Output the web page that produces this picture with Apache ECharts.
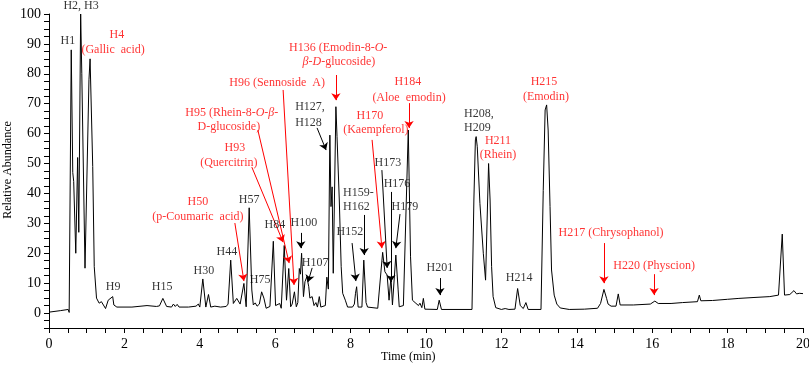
<!DOCTYPE html>
<html>
<head>
<meta charset="utf-8">
<script src="https://cdn.jsdelivr.net/npm/echarts@6/dist/echarts.min.js"></script>
<style>
html,body{margin:0;padding:0;background:#fff;}
#chart{width:809px;height:368px;}
</style>
</head>
<body>
<div id="chart"></div>
<script>
// Chromatogram trace: retention time (min) and relative abundance
const times = [0,0.3,0.51,0.535,0.59,0.63,0.655,0.71,0.76,0.79,0.84,0.87,0.955,1.06,1.09,1.16,1.2,1.26,1.33,1.39,1.5,1.57,1.69,1.72,1.8,2.2,2.6,2.85,2.93,3.02,3.12,3.25,3.3,3.35,3.4,3.45,3.7,3.9,3.96,4.0,4.08,4.16,4.23,4.29,4.4,4.55,4.7,4.75,4.82,4.89,4.98,5.07,5.17,5.23,5.31,5.38,5.42,5.47,5.52,5.58,5.64,5.7,5.76,5.86,5.95,6.01,6.12,6.16,6.24,6.3,6.36,6.41,6.45,6.51,6.56,6.6,6.64,6.67,6.7,6.75,6.79,6.84,6.89,6.92,6.98,7.03,7.08,7.12,7.17,7.21,7.33,7.37,7.41,7.45,7.48,7.51,7.54,7.61,7.64,7.7,7.75,7.79,7.86,7.92,8.05,8.1,8.13,8.16,8.2,8.3,8.35,8.41,8.45,8.72,8.85,8.91,8.97,9.02,9.07,9.11,9.2,9.26,9.29,9.4,9.45,9.53,9.59,9.64,9.71,9.8,9.84,9.89,9.93,9.97,10.3,10.35,10.41,11.22,11.27,11.31,11.33,11.36,11.43,11.52,11.58,11.66,11.7,11.74,11.78,11.85,12.0,12.1,12.2,12.36,12.43,12.5,12.58,12.65,12.71,13.05,13.11,13.16,13.2,13.24,13.29,13.33,13.4,13.47,13.56,13.8,14.2,14.55,14.63,14.72,14.79,14.83,14.86,14.91,15.04,15.1,15.15,15.5,15.95,16.07,16.16,16.5,16.8,17.2,17.25,17.29,17.6,18.0,18.3,18.7,19.12,19.35,19.4,19.45,19.51,19.65,19.76,19.83,19.9,20];
const abundance = [0.3,0.8,1.2,0.2,88,47,44,20,52,27,100,80,15,78,85,49,15.5,5,3.3,3.8,1.5,4.3,5.5,2.7,2.0,2.0,2.5,2.2,2.4,4.9,2.2,2.0,3.0,2.2,2.9,2.0,2.0,2.3,3.0,2.0,11.4,2.0,6.2,2.0,2.3,2.0,2.2,3.0,17.7,3.2,4.9,3.0,9.9,2.1,35.2,7.7,2.7,3.4,2.3,3.0,7.1,5.0,1.6,2.2,24,2.5,3.2,1.6,22.6,4.3,14.9,2.1,3.0,7.1,2.1,3.5,14.9,13,20,5.5,10.5,12.1,8.8,5.0,5.5,2.5,3.5,2.0,5.5,2.0,2.5,12,8,59.5,35.6,42.2,13.3,69,59,37.8,15.5,6.6,4.3,2.0,2.0,3.0,6.6,8.8,2.0,2.0,17.7,3.5,2.0,1.6,20.3,13.8,12.7,4.3,12.1,2.7,19.4,8.0,2.1,2.5,3.0,61.2,18.8,4.3,3.5,2.5,3.3,1.8,4.9,1.3,1.2,4.3,1.2,1.2,37.8,57.9,59,55.6,36.7,20,11,50,37.8,15.5,5.5,1.8,1.2,1.5,1.2,1.3,8.2,2.5,1.5,3.5,1.2,1.2,41,67.9,69.6,61.2,35.6,14.4,6,3,1.7,1.2,1.3,1.6,3.2,7.9,4.9,3.0,3.3,2.3,2.3,6.4,2.7,2.7,3.0,4.0,3.2,3.2,3.5,3.8,6.0,4.1,4.2,4.6,4.9,5.2,5.5,6.0,6.5,26.4,6.0,6.2,7.5,6.4,6.6,6.5];

// Tick labels
const xTickLabels = [0,2,4,6,8,10,12,14,16,18,20];
const yTickLabels = [0,10,20,30,40,50,60,70,80,90,100];

// Peak annotations: text, anchor time, anchor abundance, colour key, alignment
const labelTexts = ['H1','H2, H3','H4','(Gallic  acid)','H9','H15','H30','H44','H50','(p-Coumaric  acid)','H57','H75','H84',
  'H93','(Quercitrin)','H95 (Rhein-8-{i|O}-{i|β}-','D-glucoside)','H96 (Sennoside  A)','H100','H107','H127,','H128',
  'H136 (Emodin-8-{i|O}-','{i|β}-{i|D}-glucoside)','H152','H159-','H162','H170','(Kaempferol)','H173','H176','H179',
  'H184','(Aloe  emodin)','H201','H208,','H209','H211','(Rhein)','H214','H215','(Emodin)','H217 (Chrysophanol)','H220 (Physcion)'];
const labelT = [0.50,0.85,1.80,1.70,1.70,3.00,4.11,4.72,3.95,3.95,5.31,5.60,5.99,
  4.93,4.77,4.85,4.77,6.05,6.76,7.06,6.53,6.53,
  7.67,7.69,7.98,7.80,7.80,8.51,8.67,8.99,9.23,9.44,
  9.52,9.55,10.37,11.01,11.01,11.91,11.91,12.47,13.13,13.18,14.91,16.05];
const labelV = [91.0,102.7,93.0,88.0,8.7,8.7,14.0,20.4,37.1,32.1,37.8,11.0,29.4,
  55.2,50.2,66.9,62.2,76.9,30.1,16.7,68.9,63.5,
  88.6,83.9,27.1,40.1,35.5,65.9,61.2,50.2,43.1,35.5,
  77.3,71.9,15.1,66.6,61.9,57.5,52.8,11.7,77.3,72.2,26.8,15.7];
const labelRed = [0,0,1,1,0,0,0,0,1,1,0,0,0,
  1,1,1,1,1,0,0,0,0,
  1,1,0,0,0,1,1,0,0,0,
  1,1,0,0,0,1,1,0,1,1,1,1];
const labelLeft = [0,0,0,0,0,0,0,0,0,0,0,0,0,
  0,0,0,0,0,0,0,1,1,
  0,0,0,1,1,0,0,0,0,0,
  0,0,0,1,1,0,0,0,0,0,0,0];

// Arrows: start (time, abundance) -> end (time, abundance)
const arrowFromT = [4.93,5.38,5.54,6.21,7.61,8.57,9.55,14.72,16.05, 6.68,6.98,7.11,8.04,8.36,8.83,9.07,9.31,10.37];
const arrowFromV = [30.1,48.8,61.2,74.6,79.6,57.9,70.2,23.4,13.0, 26.8,15.1,61.9,23.4,32.8,47.8,40.5,33.1,11.7];
const arrowToT   = [5.17,6.21,6.37,6.50,7.61,8.83,9.55,14.72,16.05, 6.68,6.87,7.35,8.14,8.36,8.97,9.07,9.20,10.37];
const arrowToV   = [10.7,23.7,16.7,9.4,71.2,21.7,61.9,10.0,6.0, 21.7,10.4,54.5,10.7,19.4,15.1,10.4,21.7,6.0];
const arrowRed   = [1,1,1,1,1,1,1,1,1, 0,0,0,0,0,0,0,0,0];

const RED = '#ff0000';
const FONT = 'Liberation Serif';

const chart = echarts.init(document.getElementById('chart'), null, {renderer: 'canvas'});

const trace = times.map((t, i) => [t, abundance[i]]);

const labelData = labelTexts.map((txt, i) => ({
  value: [labelT[i], labelV[i]],
  label: {
    formatter: txt,
    color: labelRed[i] ? RED : '#000',
    align: labelLeft[i] ? 'left' : 'center',
    rich: {
      i: {fontStyle: 'italic', fontFamily: FONT, fontSize: 12, color: labelRed[i] ? RED : '#000'}
    }
  }
}));

const arrowData = arrowFromT.map((t, i) => ({
  coords: [[t, arrowFromV[i]], [arrowToT[i], arrowToV[i]]],
  lineStyle: {color: arrowRed[i] ? RED : '#000', width: 1, opacity: 1}
}));

const option = {
  animation: false,
  backgroundColor: '#fff',
  grid: {left: 49, right: 6, top: 14, bottom: 40, containLabel: false, outerBoundsMode: 'none'},
  xAxis: {
    type: 'value', min: 0, max: 20, interval: 0.5,
    axisLine: {onZero: false, lineStyle: {color: '#000', width: 1}},
    axisTick: {show: true, inside: false, length: 5, lineStyle: {color: '#000'}},
    axisLabel: {
      color: '#000', fontFamily: FONT, fontSize: 14, margin: 9,
      formatter: v => xTickLabels.indexOf(v) >= 0 ? String(v) : ''
    },
    splitLine: {show: false}
  },
  yAxis: {
    type: 'value', min: -5, max: 100, interval: 2.5,
    axisLine: {show: true, onZero: false, lineStyle: {color: '#000', width: 1}},
    axisTick: {show: true, inside: false, length: 5, lineStyle: {color: '#000'}},
    axisLabel: {
      color: '#000', fontFamily: FONT, fontSize: 14, margin: 8,
      formatter: v => yTickLabels.indexOf(v) >= 0 ? String(v) : ''
    },
    splitLine: {show: false}
  },
  graphic: [{
    type: 'text', left: 381, top: 351,
    style: {text: 'Time (min)', fill: '#000', font: '12px "Liberation Serif"'}
  }, {
    type: 'text', x: 8, y: 170, rotation: Math.PI / 2,
    style: {text: 'Relative Abundance', fill: '#000', font: '12px "Liberation Serif"',
      textAlign: 'center', textVerticalAlign: 'middle'}
  }],
  series: [
    {
      type: 'line', data: trace, showSymbol: false, symbol: 'none',
      lineStyle: {color: '#000', width: 1}, z: 2, clip: false
    },
    {
      type: 'lines', coordinateSystem: 'cartesian2d', data: arrowData,
      symbol: ['none', 'arrow'], symbolSize: 7, z: 3, silent: true
    },
    {
      type: 'scatter', data: labelData, symbolSize: 0, clip: false, z: 4, silent: true,
      label: {show: true, position: 'inside', verticalAlign: 'middle',
        fontFamily: FONT, fontSize: 12},
      labelLayout: {hideOverlap: false}
    }
  ]
};
chart.setOption(option);
</script>
</body>
</html>
